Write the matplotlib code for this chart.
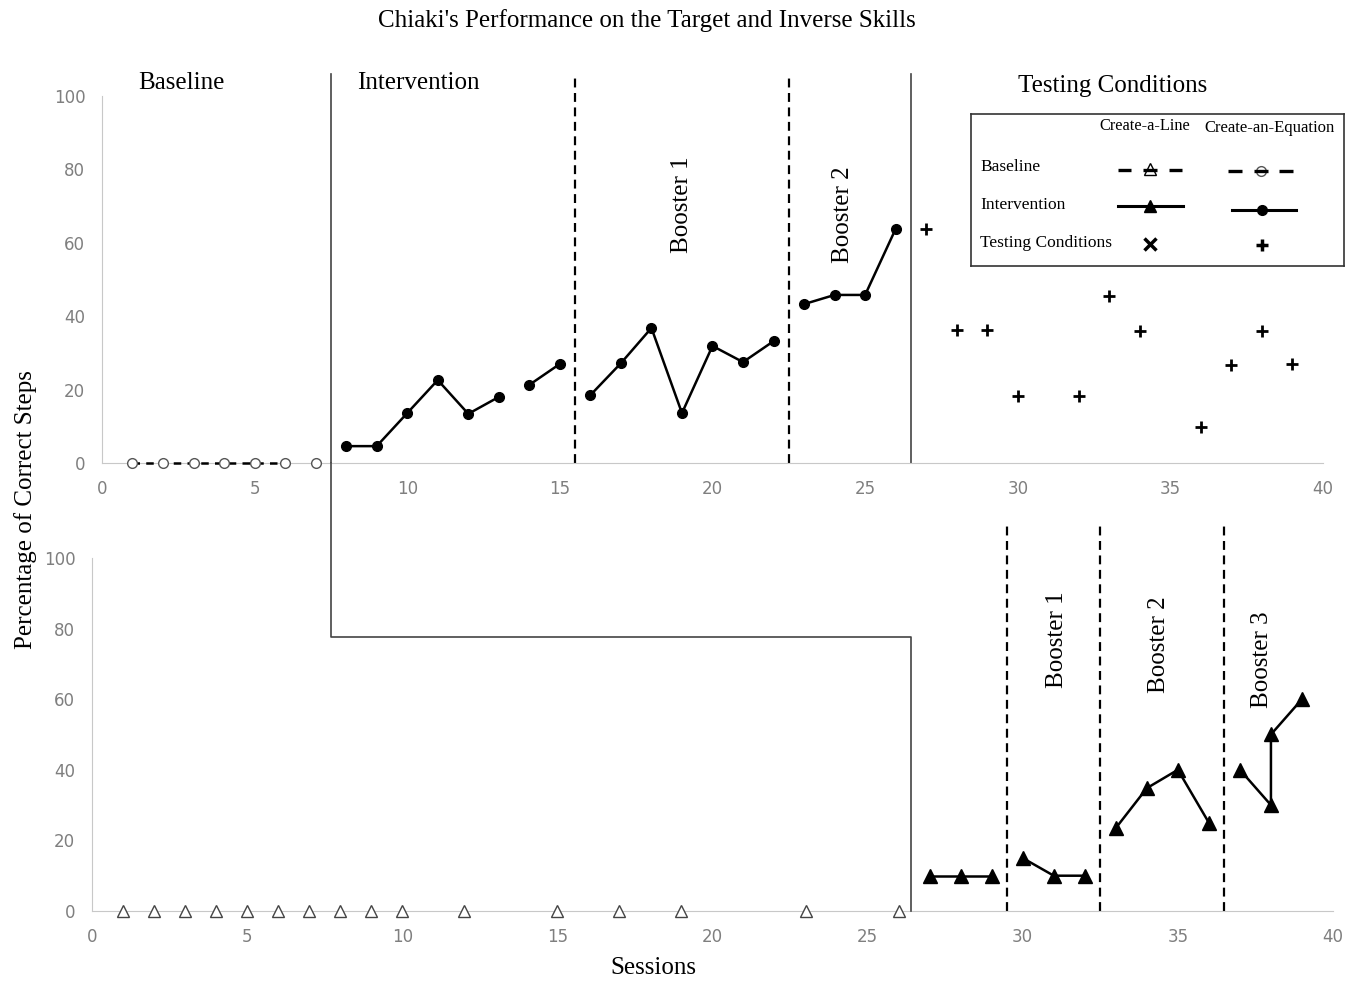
import matplotlib
matplotlib.use("Agg")
import matplotlib.pyplot as plt
from matplotlib.lines import Line2D

plt.rcParams['font.family'] = ['Liberation Serif', 'DejaVu Serif']

# Create-an-Equation (top panel)
base_eq_x = [1, 2, 3, 4, 5, 6, 7]
base_eq_y = [0, 0, 0, 0, 0, 0, 0]
int_eq_a_x = [8, 9, 10, 11, 12, 13]
int_eq_a_y = [4.6, 4.6, 13.6, 22.6, 13.4, 18]
int_eq_b_x = [14, 15]
int_eq_b_y = [21.3, 27]
b1_eq_x = [16, 17, 18, 19, 20, 21, 22]
b1_eq_y = [18.5, 27.2, 36.8, 13.6, 31.9, 27.5, 33.2]
b2_eq_x = [23, 24, 25, 26]
b2_eq_y = [43.3, 45.8, 45.8, 63.8]
test_eq_x = [27, 28, 29, 30, 32, 33, 34, 36, 37, 38, 39]
test_eq_y = [63.8, 36.2, 36.2, 18.3, 18.3, 45.5, 36, 9.8, 26.7, 36, 27]

# Create-a-Line (bottom panel)
base_line_x = [1, 2, 3, 4, 5, 6, 7, 8, 9, 10, 12, 15, 17, 19, 23, 26]
base_line_y = [0] * 16
int_line_x = [27, 28, 29]
int_line_y = [10, 10, 10]
b1_line_x = [30, 31, 32]
b1_line_y = [15, 10, 10]
b2_line_x = [33, 34, 35, 36]
b2_line_y = [23.5, 34.8, 40, 25]
b3_line_x = [37, 38, 38, 39]
b3_line_y = [40, 30, 50, 60]

xticks = [0, 5, 10, 15, 20, 25, 30, 35, 40]
yticks = [0, 20, 40, 60, 80, 100]

fig = plt.figure(figsize=(13.47, 9.82), dpi=100)
ax1 = fig.add_axes([0.0757, 0.5285, 0.9065, 0.3737])
ax2 = fig.add_axes([0.0683, 0.0723, 0.9213, 0.3595])

for ax in (ax1, ax2):
    ax.set_xlim(0, 40)
    ax.set_ylim(0, 100)
    ax.set_xticks(xticks)
    ax.set_yticks(yticks)
    ax.tick_params(length=0, labelsize=12, colors='#7f7f7f', pad=12)
    for lab in ax.get_xticklabels() + ax.get_yticklabels():
        lab.set_family('DejaVu Sans')
    ax.spines['top'].set_visible(False)
    ax.spines['right'].set_visible(False)
    ax.spines['left'].set_color('#c8c8c8')
    ax.spines['bottom'].set_color('#c8c8c8')
    ax.patch.set_alpha(0)

dash = (0, (4, 2.5))
lw = 1.8
big = 18

# top panel data
ax1.plot(base_eq_x[:-1], base_eq_y[:-1], color='black', ls=(0, (3, 2.5)), lw=1.8,
         marker='o', ms=7, mfc='white', mec='#555555', clip_on=False, zorder=3)
ax1.plot(base_eq_x[-1:], base_eq_y[-1:], ls='none', marker='o', ms=7, mfc='white',
         mec='#555555', clip_on=False, zorder=3)
for xs, ys in [(int_eq_a_x, int_eq_a_y), (int_eq_b_x, int_eq_b_y),
               (b1_eq_x, b1_eq_y), (b2_eq_x, b2_eq_y)]:
    ax1.plot(xs, ys, color='black', lw=lw, marker='o', ms=7, zorder=3)
ax1.plot(test_eq_x, test_eq_y, ls='none', marker='+', ms=8, mew=2, color='black')

# top phase lines
ax1.plot([15.5, 15.5], [0, 106], color='black', ls=dash, lw=1.6, clip_on=False)
ax1.plot([22.5, 22.5], [0, 106], color='black', ls=dash, lw=1.6, clip_on=False)
ax1.plot([7.5, 7.5], [0, 106], color='#444444', lw=1.2, clip_on=False)
ax1.plot([26.5, 26.5], [0, 106], color='#444444', lw=1.2, clip_on=False)

ax1.text(2.6, 103.5, 'Baseline', ha='center', va='center', fontsize=big)
ax1.text(10.35, 103.5, 'Intervention', ha='center', va='center', fontsize=big)
ax1.text(33.1, 102.7, 'Testing Conditions', ha='center', va='center', fontsize=big)
ax1.text(19.0, 70.3, 'Booster 1', rotation=90, ha='center', va='center', fontsize=big)
ax1.text(24.27, 67.6, 'Booster 2', rotation=90, ha='center', va='center', fontsize=big)

# bottom panel data
ax2.plot(base_line_x, base_line_y, ls='none', marker='^', ms=9, mfc='white',
         mec='#444444', clip_on=False, zorder=3)
for xs, ys in [(int_line_x, int_line_y), (b1_line_x, b1_line_y),
               (b2_line_x, b2_line_y), (b3_line_x, b3_line_y)]:
    ax2.plot(xs, ys, color='black', lw=lw, marker='^', ms=10, zorder=3)

for xv in [29.5, 32.5, 36.5]:
    ax2.plot([xv, xv], [0, 110], color='black', ls=dash, lw=1.6, clip_on=False)

ax2.text(31.1, 76.8, 'Booster 1', rotation=90, ha='center', va='center', fontsize=big)
ax2.text(34.4, 75.4, 'Booster 2', rotation=90, ha='center', va='center', fontsize=big)
ax2.text(37.7, 71.1, 'Booster 3', rotation=90, ha='center', va='center', fontsize=big)

# step line linking the two panels
p1 = ax1.transData.transform((7.5, 0))
p2 = ax2.transData.transform((26.4, 77.6))
p3 = ax2.transData.transform((26.4, 0))
inv = fig.transFigure.inverted()
pts = inv.transform([p1, (p1[0], p2[1]), p2, p3])
fig.lines.append(Line2D(pts[:, 0], pts[:, 1], transform=fig.transFigure,
                        color='#444444', lw=1.2))

# legend box
lg = fig.add_axes([0.7209, 0.7291, 0.2769, 0.1548])
lg.set_xlim(0, 373)
lg.set_ylim(152, 0)
lg.set_xticks([])
lg.set_yticks([])
for s in lg.spines.values():
    s.set_color('#333333')
    s.set_linewidth(1.2)
lg.text(174, 12, 'Create-a-Line', ha='center', va='center', fontsize=11.8)
lg.text(298, 14, 'Create-an-Equation', ha='center', va='center', fontsize=12)
lg.text(9, 53, 'Baseline', ha='left', va='center', fontsize=12.5)
lg.text(9, 91, 'Intervention', ha='left', va='center', fontsize=12.5)
lg.text(9, 129, 'Testing Conditions', ha='left', va='center', fontsize=12.5)
lg.plot([179], [55], marker='^', ms=8, mfc='white', mec='black', ls='none')
for a, b in [(147, 160), (172, 186), (198, 211)]:
    lg.plot([a, b], [56, 56], color='black', lw=2.4, solid_capstyle='butt')
lg.plot([290], [57], marker='o', ms=7, mfc='white', mec='#555555', ls='none')
for a, b in [(257, 271), (283, 297), (308, 322)]:
    lg.plot([a, b], [57, 57], color='black', lw=2.4, solid_capstyle='butt')
lg.plot([147, 212], [92, 92], color='black', lw=2.2)
lg.plot([179], [92], marker='^', ms=9, color='black', ls='none')
lg.plot([261, 325], [96, 96], color='black', lw=2.2)
lg.plot([291], [96], marker='o', ms=7, color='black', ls='none')
lg.plot([179], [130], marker='x', ms=8, mew=2.5, color='black', ls='none')
lg.plot([291], [131], marker='+', ms=9, mew=2.5, color='black', ls='none')

fig.text(0.480, 0.9796, "Chiaki's Performance on the Target and Inverse Skills",
         ha='center', va='center', fontsize=big)
fig.text(0.0186, 0.4807, 'Percentage of Correct Steps', rotation=90,
         ha='center', va='center', fontsize=big)
fig.text(0.4848, 0.0143, 'Sessions', ha='center', va='center', fontsize=big)

fig.savefig('out.png', dpi=100)
